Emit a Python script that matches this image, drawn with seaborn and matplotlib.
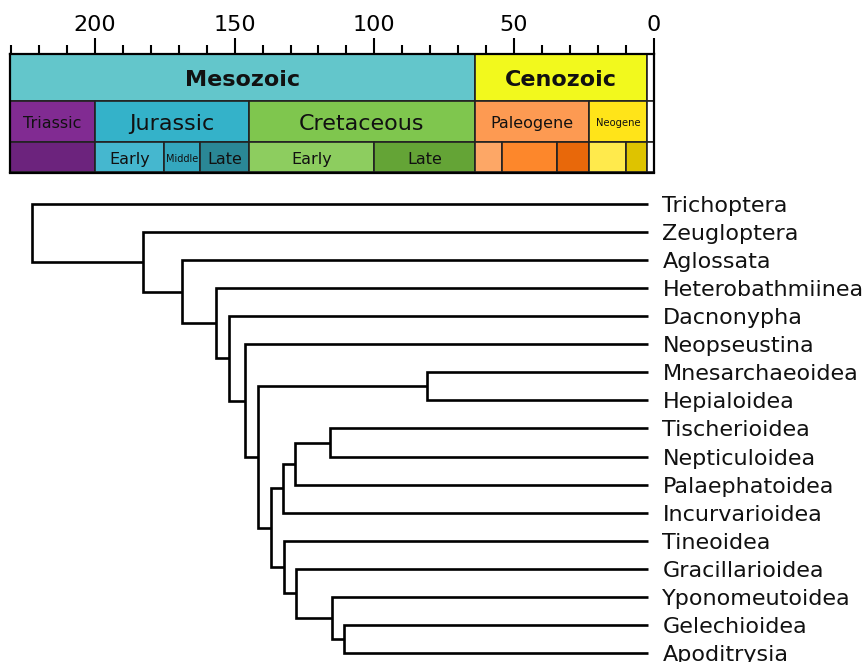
import matplotlib
matplotlib.use("Agg")
import matplotlib.pyplot as plt
import pandas as pd
import seaborn as sns

# ---------------- data ----------------
tick_major = [200, 150, 100, 50, 0]
tick_minor = [230, 220, 210, 190, 180, 170, 160, 140, 130, 120, 110, 90, 80, 70, 60, 40, 30, 20, 10]

era_names = ["Mesozoic", "Cenozoic", ""]
era_start = [230.5, 64.0, 2.2]
era_end = [64.0, 2.2, 0.0]
era_colors = ["#63C6CB", "#F2F91D", "#FFFFFF"]

period_names = ["Triassic", "Jurassic", "Cretaceous", "Paleogene", "Neogene", ""]
period_start = [230.5, 200.0, 145.0, 64.0, 23.0, 2.2]
period_end = [200.0, 145.0, 64.0, 23.0, 2.2, 0.0]
period_colors = ["#812B92", "#34B2C9", "#7FC64E", "#FD9A52", "#FFE419", "#FFFFFF"]
period_sizes = [11.5, 16, 16, 11.5, 7.2, 8]

epoch_names = ["", "Early", "Middle", "Late", "Early", "Late", "", "", "", "", "", ""]
epoch_start = [230.5, 200.0, 175.5, 162.4, 145.0, 100.0, 64.0, 54.4, 34.5, 23.0, 9.9, 2.2]
epoch_end = [200.0, 175.5, 162.4, 145.0, 100.0, 64.0, 54.4, 34.5, 23.0, 9.9, 2.2, 0.0]
epoch_colors = ["#6C237D", "#45B7CF", "#34A7BE", "#2A8796", "#8DCD5F", "#64A436",
                "#FDA766", "#FD872B", "#E8680A", "#FFEA4C", "#DEC300", "#FFFFFF"]
epoch_sizes = [11.5, 11.5, 7, 11.5, 11.5, 11.5, 8, 8, 8, 8, 8, 8]

leaves = ["Trichoptera", "Zeugloptera", "Aglossata", "Heterobathmiinea", "Dacnonypha",
          "Neopseustina", "Mnesarchaeoidea", "Hepialoidea", "Tischerioidea",
          "Nepticuloidea", "Palaephatoidea", "Incurvarioidea", "Tineoidea",
          "Gracillarioidea", "Yponomeutoidea", "Gelechioidea", "Apoditrysia"]
leaf_age = 2.0

node_names = ["Exo", "TN", "TNP", "TNPI", "GA", "YGA", "GYGA", "Dit", "Het",
              "ExoHet", "Neo", "Dac", "Hb", "Agl", "Lep", "Root"]
node_left = ["Mnesarchaeoidea", "Tischerioidea", "TN", "TNP", "Gelechioidea",
             "Yponomeutoidea", "Gracillarioidea", "Tineoidea", "TNPI", "Exo",
             "Neopseustina", "Dacnonypha", "Heterobathmiinea", "Aglossata",
             "Zeugloptera", "Trichoptera"]
node_right = ["Hepialoidea", "Nepticuloidea", "Palaephatoidea", "Incurvarioidea",
              "Apoditrysia", "GA", "YGA", "GYGA", "Dit", "Het", "ExoHet", "Neo",
              "Dac", "Hb", "Agl", "Lep"]
node_age = [81.1, 115.9, 128.4, 132.6, 110.8, 115.1, 128.2, 132.2, 137.0,
            141.5, 146.5, 152.2, 156.7, 168.9, 183.0, 222.5]

# ---------------- layout of tree ----------------
ypos = {name: i for i, name in enumerate(leaves)}
age = {name: leaf_age for name in leaves}
for n, l, r, a in zip(node_names, node_left, node_right, node_age):
    ypos[n] = (ypos[l] + ypos[r]) / 2.0
    age[n] = a

rows = []
for n, l, r in zip(node_names, node_left, node_right):
    pts = [(age[l], ypos[l]), (age[n], ypos[l]), (age[n], ypos[r]), (age[r], ypos[r])]
    for k, (x, y) in enumerate(pts):
        rows.append({"node": n, "order": k, "age": x, "y": y})
segs = pd.DataFrame(rows)

# ---------------- figure ----------------
sns.set_theme(style="white")
plt.rcParams["font.family"] = ["DejaVu Sans"]
plt.rcParams["text.color"] = "black"

W, H = 868, 662
fig = plt.figure(figsize=(W / 100, H / 100), dpi=100)

x0, x1 = 10.0, 653.5
head_top, head_bot = 54.0, 172.5
row_b = [54.0, 100.5, 142.3, 172.5]

axh = fig.add_axes([x0 / W, (H - head_bot) / H, (x1 - x0) / W, (head_bot - head_top) / H])
axh.set_xlim(230.5, 0)
axh.set_ylim(head_bot, head_top)


def draw_row(ax, names, starts, ends, colors, top, bot, sizes, weight="normal"):
    yc = (top + bot) / 2
    ax.barh([yc] * len(names), [s - e for s, e in zip(starts, ends)], left=ends,
            height=bot - top, color=colors, edgecolor="#222222", linewidth=1.2,
            align="center")
    for nm, s, e, fs in zip(names, starts, ends, sizes):
        if nm:
            ax.text((s + e) / 2, yc + 1, nm, ha="center", va="center_baseline",
                    fontsize=fs, fontweight=weight, color="#111111")


draw_row(axh, era_names, era_start, era_end, era_colors, row_b[0], row_b[1],
         [16, 16, 16], weight="bold")
draw_row(axh, period_names, period_start, period_end, period_colors, row_b[1], row_b[2],
         period_sizes)
draw_row(axh, epoch_names, epoch_start, epoch_end, epoch_colors, row_b[2], row_b[3],
         epoch_sizes)

axh.set_yticks([])
axh.set_xticks(tick_major)
axh.set_xticklabels([str(t) for t in tick_major])
axh.set_xticks(tick_minor, minor=True)
axh.xaxis.set_ticks_position("top")
axh.tick_params(axis="x", which="major", direction="out", length=11.5, width=1.5,
                labelsize=16, pad=2.5, top=True, bottom=False, labeltop=True,
                labelbottom=False, colors="black")
axh.tick_params(axis="x", which="minor", direction="out", length=6.5, width=1.5,
                top=True, bottom=False, colors="black")
for sp in axh.spines.values():
    sp.set_color("black")
    sp.set_linewidth(1.6)

# tree axes
tree_top = 190.0
y_first, spacing = 204.0, 28.06
axt = fig.add_axes([x0 / W, 0, (x1 - x0) / W, (H - tree_top) / H])
axt.set_xlim(230.5, 0)
axt.set_ylim((H - y_first) / spacing, (tree_top - y_first) / spacing)
sns.lineplot(data=segs, x="age", y="y", units="node", estimator=None, sort=False,
             color="black", linewidth=1.9, legend=False, ax=axt,
             solid_joinstyle="miter", solid_capstyle="butt")
for name in leaves:
    axt.text(-3.2, ypos[name], name, ha="left", va="center_baseline", fontsize=16,
             color="#111111")
axt.set_axis_off()

fig.savefig("out.png", dpi=100)
